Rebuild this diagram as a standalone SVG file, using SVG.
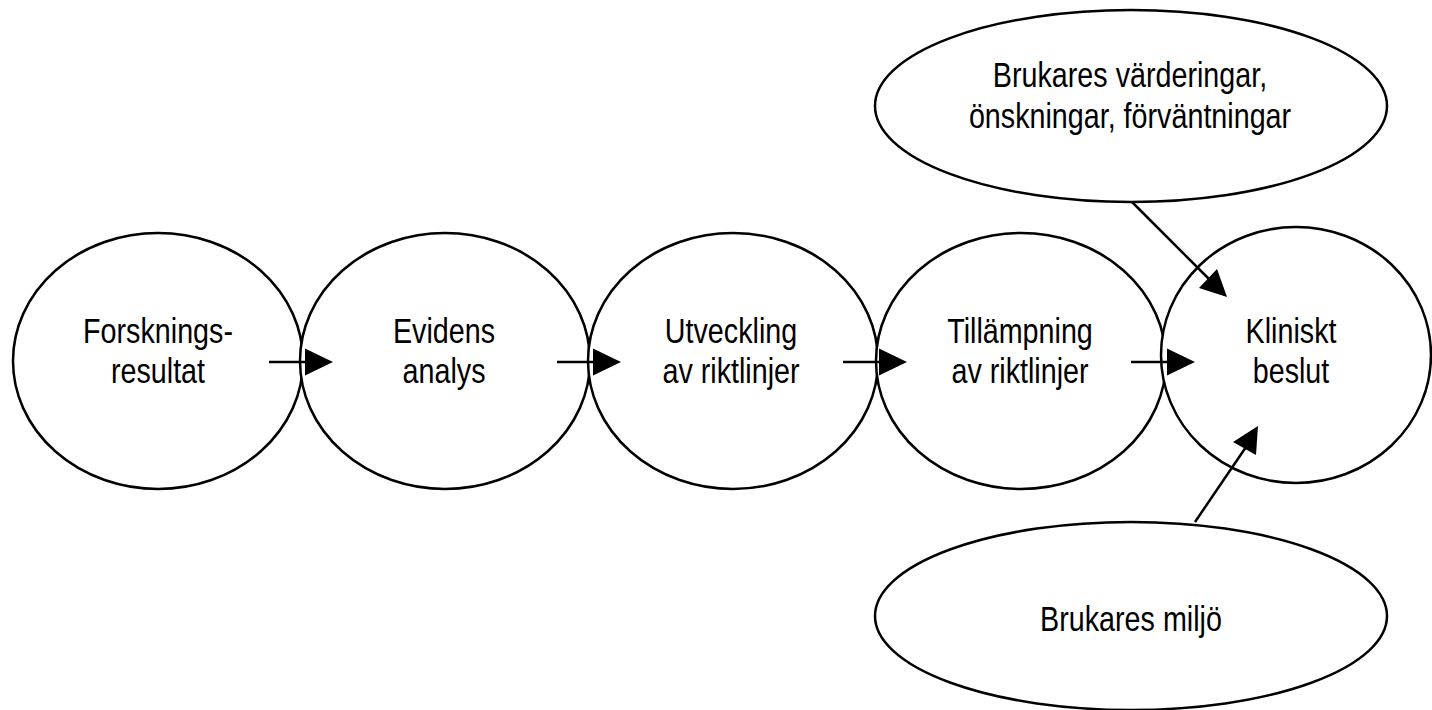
<svg xmlns="http://www.w3.org/2000/svg" width="1432" height="710" viewBox="0 0 1432 710">
<defs>
<style>
.n{fill:#fff;stroke:#000;stroke-width:2.5}
.t{font-family:"Liberation Sans Narrow","Arial Narrow","Liberation Sans",Arial,sans-serif;font-size:35px;fill:#000;text-anchor:middle}
.c{stroke:#000;stroke-width:2.5;fill:none}
.h{fill:#000;stroke:none}
</style>
</defs>
<rect width="1432" height="710" fill="#fff"/>
<g id="nodes">
<g id="n1"><ellipse class="n" cx="158" cy="361" rx="145" ry="128"/>
<text class="t" transform="translate(158 343) scale(0.82 1)">Forsknings-</text><text class="t" transform="translate(158 383) scale(0.82 1)">resultat</text></g>
<g id="n2"><ellipse class="n" cx="445" cy="361" rx="145" ry="128"/>
<text class="t" transform="translate(444 343) scale(0.82 1)">Evidens</text><text class="t" transform="translate(444 383) scale(0.82 1)">analys</text></g>
<g id="n3"><ellipse class="n" cx="733" cy="361" rx="145" ry="128"/>
<text class="t" transform="translate(731 343) scale(0.82 1)">Utveckling</text><text class="t" transform="translate(731 383) scale(0.82 1)">av riktlinjer</text></g>
<g id="n4"><ellipse class="n" cx="1021" cy="361" rx="145" ry="128"/>
<text class="t" transform="translate(1020 343) scale(0.82 1)">Tillämpning</text><text class="t" transform="translate(1020 383) scale(0.82 1)">av riktlinjer</text></g>
<g id="n5"><ellipse class="n" cx="1296" cy="355" rx="135" ry="128"/>
<text class="t" transform="translate(1291 343) scale(0.82 1)">Kliniskt</text><text class="t" transform="translate(1291 383) scale(0.82 1)">beslut</text></g>
<g id="n6"><ellipse class="n" cx="1131" cy="106" rx="256" ry="96"/>
<text class="t" transform="translate(1130 87) scale(0.82 1)">Brukares värderingar,</text><text class="t" transform="translate(1130 128) scale(0.82 1)">önskningar, förväntningar</text></g>
<g id="n7"><ellipse class="n" cx="1131" cy="616" rx="256" ry="94"/>
<text class="t" transform="translate(1131 631) scale(0.82 1)">Brukares miljö</text></g>
</g>
<g id="connectors">
<line class="c" x1="269" y1="362" x2="306" y2="362"/><polygon class="h" points="305,348.5 333,362 305,375.5"/>
<line class="c" x1="557" y1="362" x2="594" y2="362"/><polygon class="h" points="593,348.5 621,362 593,375.5"/>
<line class="c" x1="843" y1="362" x2="880" y2="362"/><polygon class="h" points="879,348.5 907,362 879,375.5"/>
<line class="c" x1="1131" y1="362" x2="1168" y2="362"/><polygon class="h" points="1167,348.5 1195,362 1167,375.5"/>
<line class="c" x1="1132" y1="202" x2="1210" y2="280"/><polygon class="h" points="1199,288 1217,269 1227,297"/>
<line class="c" x1="1195" y1="522" x2="1246" y2="447"/><polygon class="h" points="1233,442 1256,455 1258,426"/>
</g>
</svg>
